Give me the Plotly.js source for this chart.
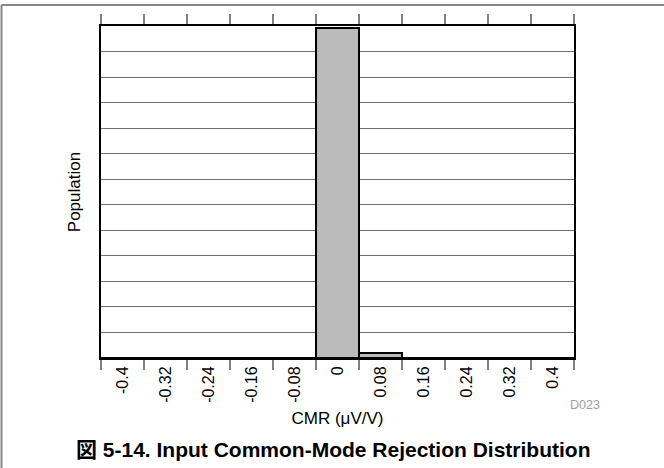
<!DOCTYPE html>
<html>
<head>
<meta charset="utf-8">
<script src="https://cdn.plot.ly/plotly-3.0.1.min.js"></script>
<style>html,body{margin:0;padding:0;background:#fff;}#chart{width:664px;height:468px;}</style>
</head>
<body>
<div id="chart"></div>
<script>
// Bin centers (CMR, µV/V) used as category labels
const binLabels = ['-0.4','-0.32','-0.24','-0.16','-0.08','0','0.08','0.16','0.24','0.32','0.4'];
// Population per bin (estimated; axis has no numeric labels)
const population = [0, 0, 0, 0, 0, 1292, 20, 0, 0, 0, 0];

const FONT = 'Liberation Sans, Arial, Helvetica, sans-serif';
const PL = 101, PR = 574, PT = 26, PB = 358, W = 664, H = 468;
const px = x => (x - PL) / (PR - PL);
const py = y => (PB - y) / (PB - PT);

const trace = {
  type: 'bar',
  x: binLabels,
  y: population,
  marker: {color: '#bababa', line: {color: '#000', width: 2}},
  hoverinfo: 'x+y'
};

const layout = {
  width: W, height: H,
  margin: {l: PL, r: W - PR, t: PT, b: H - PB, pad: 0},
  paper_bgcolor: '#fff', plot_bgcolor: '#fff',
  bargap: 0,
  showlegend: false,
  font: {family: FONT, color: '#000', size: 16},
  xaxis: {
    type: 'category',
    tickson: 'boundaries',
    ticks: 'outside', ticklen: 10, tickwidth: 1.5, tickcolor: '#808080',
    tickangle: -90,
    tickfont: {family: FONT, size: 16, color: '#000'},
    showline: true, linecolor: '#000', linewidth: 2, mirror: 'ticks',
    showgrid: false, zeroline: false,
    title: {text: 'CMR (&#956;V/V)', font: {family: FONT, size: 17, color: '#000'}, standoff: 10},
    fixedrange: true
  },
  yaxis: {
    range: [0, 1300], dtick: 100,
    showticklabels: false, ticks: '',
    showgrid: true, gridcolor: '#6e6e6e', gridwidth: 1,
    showline: true, linecolor: '#000', linewidth: 2, mirror: true,
    zeroline: false,
    title: {text: 'Population', font: {family: FONT, size: 17, color: '#000'}, standoff: 14},
    fixedrange: true
  },
  shapes: [
    {type: 'line', xref: 'paper', yref: 'paper', x0: px(1.5), x1: px(664), y0: py(5), y1: py(5), line: {color: '#888', width: 2}},
    {type: 'line', xref: 'paper', yref: 'paper', x0: px(1.5), x1: px(1.5), y0: py(5), y1: py(468), line: {color: '#888', width: 2}}
  ],
  annotations: [
    {text: 'D023', xref: 'paper', yref: 'paper', x: px(585), y: py(405), xanchor: 'center', yanchor: 'middle', showarrow: false,
     font: {family: FONT, size: 12.5, color: '#a0a0a0'}},
    {text: '<b>図 5-14. Input Common-Mode Rejection Distribution</b>', xref: 'paper', yref: 'paper', x: px(333), y: py(449),
     xanchor: 'center', yanchor: 'middle', showarrow: false,
     font: {family: 'Liberation Sans, Noto Sans CJK JP, sans-serif', size: 21, color: '#000'}}
  ]
};

Plotly.newPlot('chart', [trace], layout, {displayModeBar: false, staticPlot: true});
</script>
</body>
</html>
